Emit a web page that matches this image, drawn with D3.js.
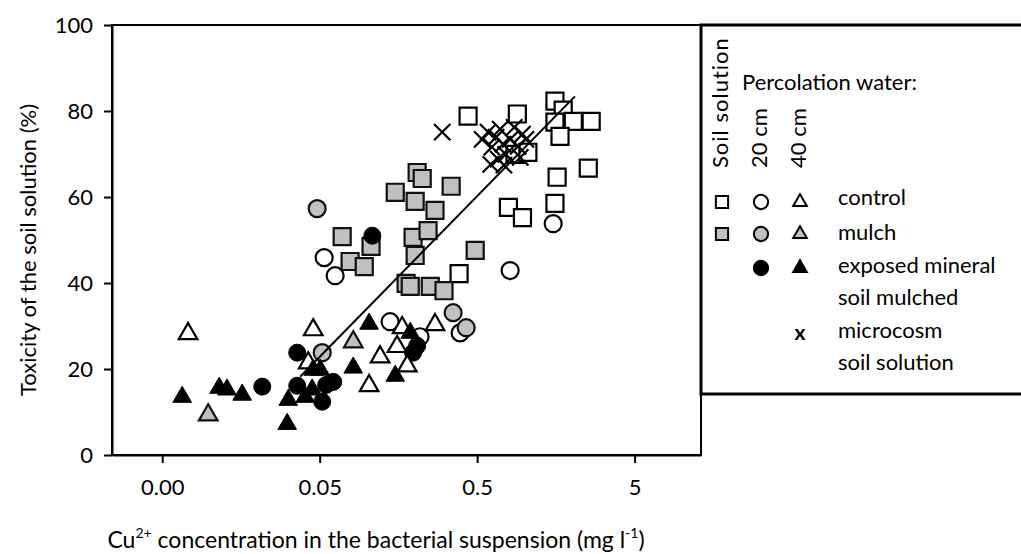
<!DOCTYPE html>
<html lang="en">
<head>
<meta charset="UTF-8">
<title>Toxicity of the soil solution vs Cu2+</title>
<script src="https://d3js.org/d3.v7.min.js"></script>
<style>
  body { margin: 0; background: #fff; }
  svg text { font-family: Lato, "Noto Sans", sans-serif; fill: #000; }
</style>
</head>
<body>
<div id="chart"></div>
<script>
// axis ticks
var xTicks = [0.005, 0.05, 0.5, 5];
var xTickLabels = ["0.00", "0.05", "0.5", "5"];
var yTicks = [0, 20, 40, 60, 80, 100];

// soil solution (squares)
var soilControl = [[0.438, 78.8], [0.90, 79.3], [1.56, 82.3], [1.76, 80.2], [1.56, 77.4], [2.04, 77.6],
  [2.65, 77.6], [1.68, 74.1], [0.87, 69.9], [1.05, 70.4], [1.61, 64.6], [2.54, 66.7], [0.79, 57.6],
  [0.97, 55.2], [1.56, 58.5], [0.384, 42.2]];
var soilMulch = [[0.208, 65.7], [0.224, 64.3], [0.151, 61.1], [0.342, 62.5], [0.202, 59.0], [0.27, 56.9],
  [0.0695, 50.8], [0.106, 48.5], [0.196, 50.6], [0.244, 52.2], [0.202, 46.4], [0.078, 45.0], [0.096, 43.8],
  [0.486, 47.6], [0.177, 39.9], [0.188, 39.2], [0.252, 39.2], [0.308, 38.2]];

// percolation water 20 cm (circles)
var p20Control = [[0.0534, 45.9], [0.0627, 41.7], [0.14, 31.0], [0.217, 27.5], [0.39, 28.4], [0.81, 42.9], [1.52, 53.8]];
var p20Mulch = [[0.0482, 57.3], [0.0519, 23.8], [0.352, 33.1], [0.426, 29.6]];
var p20Exposed = [[0.0216, 15.9], [0.036, 23.8], [0.036, 16.1], [0.0519, 12.4], [0.061, 17.0], [0.055, 16.3],
  [0.108, 51.0], [0.208, 25.4], [0.196, 23.8]];

// percolation water 40 cm (triangles)
var p40Control = [[0.0073, 28.2], [0.0455, 29.1], [0.0423, 21.4], [0.121, 22.8], [0.103, 16.1], [0.155, 25.2],
  [0.167, 29.6], [0.18, 20.7], [0.27, 30.3]];
var p40Mulch = [[0.0098, 9.3], [0.0817, 26.3]];
var p40Exposed = [[0.0067, 13.5], [0.0115, 15.6], [0.0129, 15.2], [0.0161, 14.0], [0.0316, 12.8], [0.0311, 7.2],
  [0.0405, 13.5], [0.0448, 15.2], [0.0455, 19.8], [0.0504, 19.8], [0.0817, 20.3], [0.103, 30.5], [0.151, 18.4],
  [0.188, 28.4]];

// microcosm soil solution (crosses)
var microcosm = [[0.30, 75.1], [0.538, 73.4], [0.587, 75.1], [0.62, 71.6], [0.66, 73.9], [0.70, 75.8],
  [0.73, 72.3], [0.76, 69.9], [0.68, 68.8], [0.81, 73.4], [0.86, 76.2], [0.91, 71.8], [0.97, 74.6],
  [1.02, 73.4], [0.94, 69.2], [0.61, 67.6], [0.74, 67.4]];

// regression line ends
var fitX = [0.0376, 2.09];
var fitY = [18.2, 83.4];

var W = 1021, H = 554;
var grey = "#c0c0c0";

var svg = d3.select("#chart").append("svg")
    .attr("width", W)
    .attr("height", H);

var x = d3.scaleLog().domain([0.0024, 13.2]).range([112, 701]);
var y = d3.scaleLinear().domain([0, 100]).range([455, 25]);

// frame
svg.append("rect")
    .attr("x", 112).attr("y", 25)
    .attr("width", 589).attr("height", 430)
    .attr("fill", "none").attr("stroke", "#000").attr("stroke-width", 2);

var xAxis = svg.append("g")
    .attr("transform", "translate(0,455)")
    .call(d3.axisBottom(x).tickValues(xTicks).tickSize(8).tickSizeOuter(0)
      .tickFormat(function(d, i) { return xTickLabels[i]; }));
var yAxis = svg.append("g")
    .attr("transform", "translate(112,0)")
    .call(d3.axisLeft(y).tickValues(yTicks).tickSize(8).tickSizeOuter(0));

[xAxis, yAxis].forEach(function(a) {
  a.select(".domain").attr("stroke-width", 2);
  a.selectAll(".tick line").attr("stroke-width", 2);
  a.selectAll("text").attr("font-size", 22).style("font-family", "Lato, 'Noto Sans', sans-serif");
});
xAxis.selectAll("text").attr("dy", "1.3em");
yAxis.selectAll("text").attr("x", -19);

// symbols
var sq = d3.symbol().type(d3.symbolSquare).size(290);
var ci = d3.symbol().type(d3.symbolCircle).size(227);
var tr = d3.symbol().type(d3.symbolTriangle).size(150);
var cr = d3.symbol().type(d3.symbolTimes || d3.symbolX).size(175);

function draw(data, gen, fill, stroke, sw) {
  svg.append("g").selectAll("path")
    .data(data)
    .join("path")
      .attr("transform", function(d) { return "translate(" + x(d[0]) + "," + y(d[1]) + ")"; })
      .attr("d", gen)
      .attr("fill", fill)
      .attr("stroke", stroke)
      .attr("stroke-width", sw);
}

draw(soilControl, sq, "#fff", "#000", 2.2);
draw(soilMulch, sq, grey, "#111", 2.2);
draw(microcosm, cr, "none", "#000", 2.2);
draw(p20Control, ci, "#fff", "#000", 2.2);
draw(p20Mulch, ci, grey, "#111", 2.2);
draw(p20Exposed, ci, "#000", "#000", 1);
draw(p40Control, tr, "#fff", "#000", 2.2);
draw(p40Mulch, tr, grey, "#111", 2.2);
draw(p40Exposed, tr, "#000", "#000", 1);

// regression line
var line = d3.line()
    .x(function(d) { return x(d[0]); })
    .y(function(d) { return y(d[1]); });
svg.append("path")
    .datum(d3.zip(fitX, fitY))
    .attr("d", line)
    .attr("fill", "none")
    .attr("stroke", "#000")
    .attr("stroke-width", 2);

// axis titles
svg.append("text")
    .attr("transform", "translate(36,250) rotate(-90)")
    .attr("text-anchor", "middle")
    .attr("font-size", 22)
    .text("Toxicity of the soil solution (%)");

var xt = svg.append("text")
    .attr("x", 376).attr("y", 548)
    .attr("text-anchor", "middle")
    .attr("font-size", 23);
xt.append("tspan").text("Cu");
xt.append("tspan").attr("font-size", 14).attr("dy", -10).text("2+");
xt.append("tspan").attr("dy", 10).text(" concentration in the bacterial suspension (mg l");
xt.append("tspan").attr("font-size", 14).attr("dy", -10).text("-1");
xt.append("tspan").attr("dy", 10).text(")");

// legend
var lg = svg.append("g");
lg.append("rect")
    .attr("x", 701).attr("y", 25)
    .attr("width", 340).attr("height", 369)
    .attr("fill", "#fff").attr("stroke", "#000").attr("stroke-width", 3);

var colX = [722, 761, 800];
var headers = ["Soil solution", "20 cm", "40 cm"];
var headerSpacing = [1, 0, 0];
headers.forEach(function(h, i) {
  lg.append("text")
    .attr("transform", "translate(" + (colX[i] + 6) + ",168) rotate(-90)")
    .attr("font-size", 22)
    .attr("letter-spacing", headerSpacing[i])
    .text(h);
});
lg.append("text").attr("x", 742).attr("y", 90).attr("font-size", 22).text("Percolation water:");

var legendRows = ["control", "mulch", "exposed mineral", "soil mulched", "microcosm", "soil solution"];
var rowBase = [205, 240, 273, 305, 338, 370];
legendRows.forEach(function(t, i) {
  lg.append("text").attr("x", 838).attr("y", rowBase[i])
    .attr("font-size", 22).text(t);
});

var markY = [202, 234, 268];
var lsq = d3.symbol().type(d3.symbolSquare).size(150);
var lci = d3.symbol().type(d3.symbolCircle).size(160);
var ltr = d3.symbol().type(d3.symbolTriangle).size(80);
var legendMarks = [
  [0, 0, lsq, "#fff"], [0, 1, lci, "#fff"], [0, 2, ltr, "#fff"],
  [1, 0, lsq, grey], [1, 1, lci, grey], [1, 2, ltr, grey],
  [2, 1, lci, "#000"], [2, 2, ltr, "#000"]
];
legendMarks.forEach(function(m) {
  lg.append("path")
    .attr("transform", "translate(" + colX[m[1]] + "," + markY[m[0]] + ")")
    .attr("d", m[2])
    .attr("fill", m[3])
    .attr("stroke", "#000")
    .attr("stroke-width", 2);
});
lg.append("text").attr("x", colX[2]).attr("y", 340)
    .attr("text-anchor", "middle").attr("font-size", 21).attr("font-weight", "bold").text("x");
</script>
</body>
</html>
